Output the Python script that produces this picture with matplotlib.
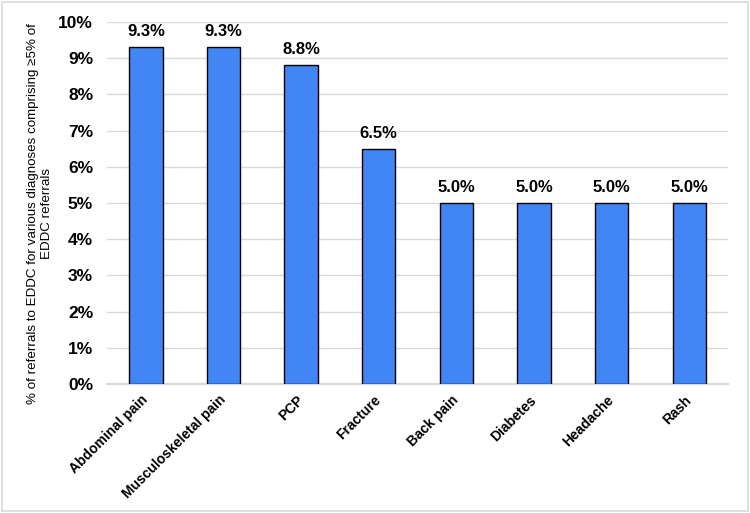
import matplotlib
matplotlib.use("Agg")
import matplotlib.pyplot as plt
from matplotlib.patches import Rectangle

categories = ["Abdominal pain", "Musculoskeletal pain", "PCP", "Fracture",
              "Back pain", "Diabetes", "Headache", "Rash"]
values = [9.3, 9.3, 8.8, 6.5, 5.0, 5.0, 5.0, 5.0]
yticks = [0, 1, 2, 3, 4, 5, 6, 7, 8, 9, 10]

plt.rcParams['font.family'] = ['Liberation Sans', 'DejaVu Sans']

fig = plt.figure(figsize=(7.5, 5.13), dpi=100)
fig.patches.append(Rectangle((0.003, 0.004), 0.994, 0.992, transform=fig.transFigure,
                             fill=False, edgecolor='#d9d9d9', linewidth=1.2))
ax = fig.add_axes([0.1427, 0.2515, 0.828, 0.7056])

x = range(len(categories))
ax.bar(x, values, width=0.43, color='#4285f4', edgecolor='black', linewidth=1.0, zorder=3)
for xi, v in zip(x, values):
    ax.text(xi, v + 0.22, f"{v:.1f}%", ha='center', va='bottom', fontsize=12,
            fontweight='bold', zorder=4)

ax.set_xlim(-0.5, len(categories) - 0.5)
ax.set_ylim(0, 10)
ax.set_yticks(yticks)
ax.set_yticklabels([f"{t}%" for t in yticks], fontsize=12.5, fontweight='bold')
ax.set_xticks(list(x))
ax.set_xticklabels(categories, rotation=45, ha='right', va='center', rotation_mode='anchor',
                   fontsize=10, fontweight='bold')
ax.tick_params(axis='both', length=0)
ax.tick_params(axis='y', pad=10)
ax.tick_params(axis='x', pad=10)
ax.grid(axis='y', color='#d9d9d9', linewidth=1.0, zorder=0)
for s in ['left', 'right', 'top']:
    ax.spines[s].set_visible(False)
ax.spines['bottom'].set_color('#d9d9d9')
ax.spines['bottom'].set_linewidth(1.5)
ax.set_ylabel("% of referrals to EDDC for various diagnoses comprising \u22655% of\nEDDC referrals",
              fontsize=9.6, linespacing=1.25)
ax.yaxis.set_label_coords(-0.087, 0.47)

fig.savefig("out.png", dpi=100)
